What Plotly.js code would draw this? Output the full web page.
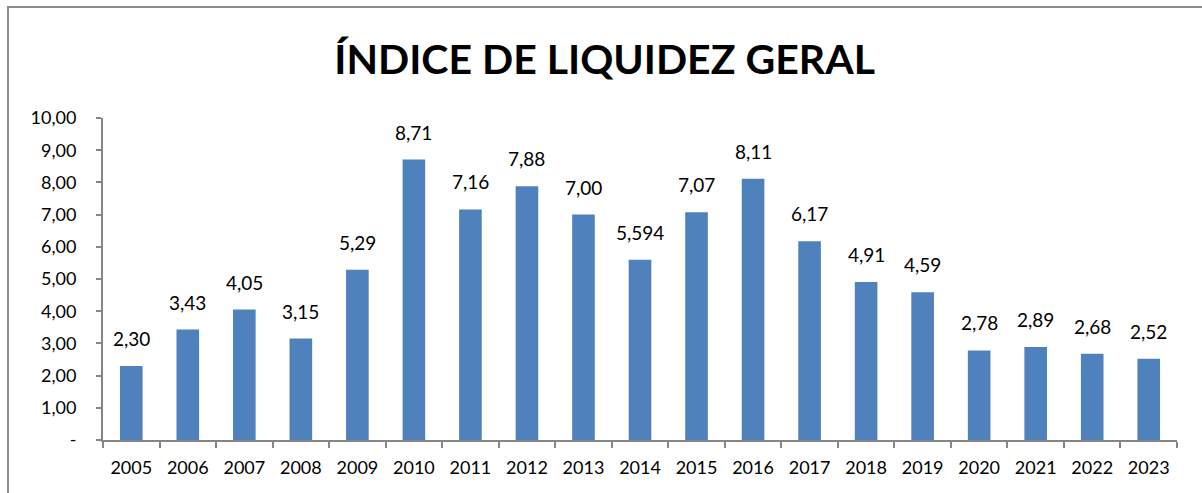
<!DOCTYPE html>
<html><head><meta charset="utf-8">
<script src="https://cdn.plot.ly/plotly-3.0.1.min.js"></script>
<style>
html,body{margin:0;padding:0;background:#fff;overflow:hidden;}
#frame{position:absolute;left:7px;top:6px;width:1300px;height:600px;border-left:2px solid #8c8c8c;border-top:2px solid #8c8c8c;}
#chart{position:absolute;left:0;top:0;width:1202px;height:493px;}
</style></head>
<body>
<div id="frame"></div>
<div id="chart"></div>
<script>
const years = ["2005","2006","2007","2008","2009","2010","2011","2012","2013","2014","2015","2016","2017","2018","2019","2020","2021","2022","2023"];
const values = [2.30,3.43,4.05,3.15,5.29,8.71,7.16,7.88,7.00,5.594,7.07,8.11,6.17,4.91,4.59,2.78,2.89,2.68,2.52];
const labels = ["2,30","3,43","4,05","3,15","5,29","8,71","7,16","7,88","7,00","5,594","7,07","8,11","6,17","4,91","4,59","2,78","2,89","2,68","2,52"];
const yTickVals = [0,1,2,3,4,5,6,7,8,9,10];
const yTickText = ["-","1,00","2,00","3,00","4,00","5,00","6,00","7,00","8,00","9,00","10,00"];
const titleText = "ÍNDICE DE LIQUIDEZ GERAL";

const font = "Lato, 'Open Sans', sans-serif";
const annotations = years.map((yr, i) => ({
  x: i, y: values[i], xref: "x", yref: "y",
  text: labels[i], showarrow: false,
  xanchor: "center", yanchor: "bottom", yshift: 14,
  font: {family: font, size: 19, color: "#000"}
}));

Plotly.newPlot("chart", [{
  type: "bar",
  x: years,
  y: values,
  marker: {color: "#4F81BD", line: {width: 0}},
  hoverinfo: "skip"
}], {
  width: 1202, height: 493,
  paper_bgcolor: "rgba(0,0,0,0)",
  plot_bgcolor: "rgba(0,0,0,0)",
  margin: {l: 103, r: 25, t: 118, b: 53},
  bargap: 0.6,
  showlegend: false,
  annotations: annotations,
  title: {text: "<b>" + titleText + "</b>", x: 0.503, xanchor: "center", y: 0.88, yanchor: "middle",
          font: {family: font, size: 41, color: "#000"}},
  xaxis: {
    type: "category",
    range: [-0.5, years.length - 0.5],
    showline: true, linecolor: "#868686", linewidth: 2,
    ticks: "outside", tickson: "boundaries", ticklen: 6, tickcolor: "#868686", tickwidth: 2,
    ticklabelstandoff: 10,
    tickfont: {family: font, size: 18, color: "#000"},
    showgrid: false, zeroline: false, fixedrange: true
  },
  yaxis: {
    range: [0, 10],
    tickvals: yTickVals, ticktext: yTickText,
    showline: true, linecolor: "#868686", linewidth: 2,
    ticks: "outside", ticklen: 5, tickcolor: "#868686", tickwidth: 2,
    ticklabelstandoff: 16,
    tickfont: {family: font, size: 18, color: "#000"},
    showgrid: false, zeroline: false, fixedrange: true
  }
}, {displayModeBar: false, staticPlot: true});
</script>
</body></html>
